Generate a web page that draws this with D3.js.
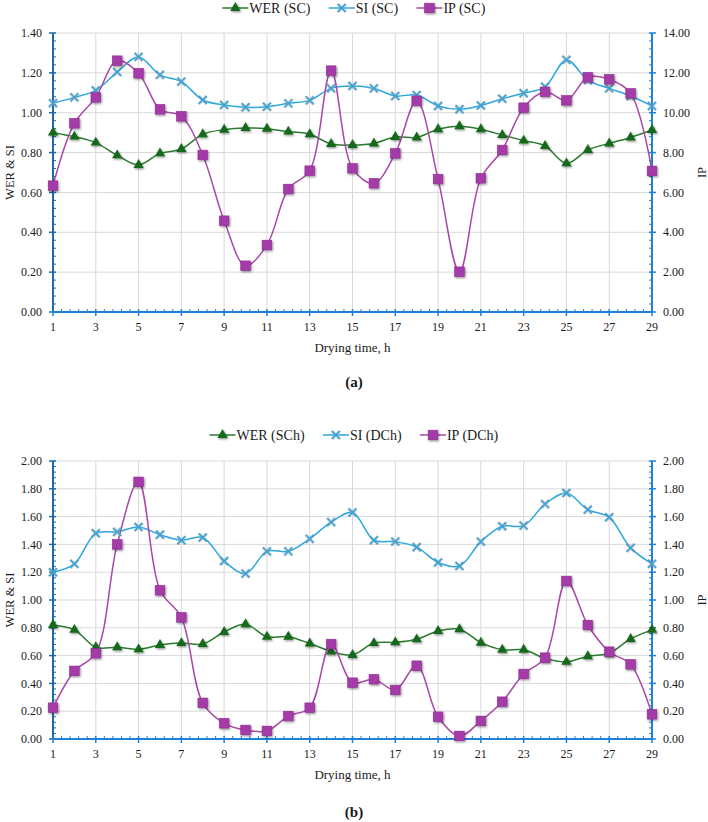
<!DOCTYPE html>
<html>
<head>
<meta charset="utf-8">
<script src="https://cdn.jsdelivr.net/npm/d3@7"></script>
<style>
  body { margin: 0; background: #fff; }
  text { fill: #1a1a1a; }
</style>
</head>
<body>
<div id="chart"></div>
<script>
// drying time (h)
const hours = [1, 2, 3, 4, 5, 6, 7, 8, 9, 10, 11, 12, 13, 14, 15, 16, 17, 18, 19, 20, 21, 22, 23, 24, 25, 26, 27, 28, 29]
const xTicks = [1, 3, 5, 7, 9, 11, 13, 15, 17, 19, 21, 23, 25, 27, 29]

// panel (a)
const werSC = [0.90, 0.88, 0.85, 0.786, 0.738, 0.796, 0.818, 0.892, 0.915, 0.923, 0.92, 0.905, 0.892, 0.843,
  0.838, 0.846, 0.878, 0.876, 0.917, 0.932, 0.917, 0.888, 0.86, 0.833, 0.746, 0.813, 0.846, 0.876, 0.913]
const siSC = [1.048, 1.077, 1.112, 1.204, 1.28, 1.19, 1.156, 1.064, 1.039, 1.027, 1.03, 1.047, 1.062, 1.122,
  1.134, 1.122, 1.084, 1.089, 1.034, 1.017, 1.036, 1.07, 1.098, 1.13, 1.265, 1.164, 1.122, 1.084, 1.034]
const ipSC = [6.34, 9.47, 10.77, 12.61, 11.98, 10.17, 9.82, 7.88, 4.58, 2.32, 3.36, 6.17, 7.09, 12.11,
  7.21, 6.46, 7.96, 10.6, 6.67, 2.02, 6.71, 8.13, 10.25, 11.05, 10.62, 11.78, 11.68, 10.97, 7.08]
const leftTicksA = [0, 0.2, 0.4, 0.6, 0.8, 1.0, 1.2, 1.4]
const rightTicksA = [0, 2, 4, 6, 8, 10, 12, 14]

// panel (b)
const werSCh = [0.82, 0.785, 0.66, 0.66, 0.645, 0.676, 0.69, 0.683, 0.77, 0.825, 0.736, 0.736, 0.687, 0.63,
  0.604, 0.69, 0.695, 0.717, 0.777, 0.79, 0.693, 0.642, 0.642, 0.58, 0.555, 0.595, 0.617, 0.72, 0.785]
const siDCh = [1.20, 1.26, 1.48, 1.49, 1.525, 1.47, 1.43, 1.45, 1.28, 1.19, 1.35, 1.35, 1.44, 1.56,
  1.63, 1.43, 1.42, 1.38, 1.27, 1.245, 1.42, 1.53, 1.535, 1.69, 1.77, 1.65, 1.595, 1.375, 1.26]
const ipDCh = [0.225, 0.49, 0.617, 1.40, 1.85, 1.07, 0.875, 0.26, 0.113, 0.065, 0.058, 0.165, 0.225, 0.683,
  0.405, 0.43, 0.353, 0.527, 0.16, 0.022, 0.13, 0.268, 0.468, 0.585, 1.137, 0.82, 0.628, 0.537, 0.178]
const leftTicksB = [0, 0.2, 0.4, 0.6, 0.8, 1.0, 1.2, 1.4, 1.6, 1.8, 2.0]
const rightTicksB = [0, 0.2, 0.4, 0.6, 0.8, 1.0, 1.2, 1.4, 1.6, 1.8, 2.0]

const colors = {
  wer: '#2b7a2e', werMark: '#17691d',
  si: '#2ea6e0', siMark: '#2aa3df',
  ip: '#a947a9', ipMark: '#a53aa8',
  grid: '#d9d9d9', leftAxis: '#1f6aa8', rightAxis: '#1f80d8'
}
const serif = "'Liberation Serif', 'Times New Roman', serif"

const W = 708, H = 822
const svg = d3.select('#chart').append('svg')
  .attr('width', W).attr('height', H)

// soft drop shadow for markers
const filt = svg.append('defs').append('filter')
  .attr('id', 'shadow').attr('x', '-50%').attr('y', '-50%').attr('width', '200%').attr('height', '200%')
filt.append('feDropShadow')
  .attr('dx', 1).attr('dy', 1.2).attr('stdDeviation', 0.9)
  .attr('flood-color', '#000').attr('flood-opacity', 0.45)

const fmt = d3.format('.2f')

function panel(cfg) {
  const g = svg.append('g')
  const x = d3.scaleLinear().domain([1, 29]).range([53, 652])
  const yL = d3.scaleLinear().domain([0, d3.max(cfg.leftTicks)]).range([cfg.bottom, cfg.top])
  const yR = d3.scaleLinear().domain([0, d3.max(cfg.rightTicks)]).range([cfg.bottom, cfg.top])

  // grid
  g.append('g').selectAll('line.h')
    .data(cfg.leftTicks.slice(1))
    .join('line')
      .attr('x1', x(1)).attr('x2', x(29))
      .attr('y1', d => yL(d)).attr('y2', d => yL(d))
      .attr('stroke', colors.grid).attr('stroke-width', 1)
  g.append('g').selectAll('line.v')
    .data(xTicks.slice(1, -1))
    .join('line')
      .attr('x1', d => x(d)).attr('x2', d => x(d))
      .attr('y1', cfg.top).attr('y2', cfg.bottom)
      .attr('stroke', colors.grid).attr('stroke-width', 1)

  // minor ticks: five per major step
  const minorOf = (ticks) => {
    const step = ticks[1] - ticks[0]
    const out = []
    ticks.slice(0, -1).forEach(t => { for (let k = 1; k < 5; k++) out.push(t + step * k / 5) })
    return out
  }

  // left axis
  const la = g.append('g')
  la.append('line').attr('x1', x(1)).attr('x2', x(1)).attr('y1', cfg.top).attr('y2', cfg.bottom)
    .attr('stroke', colors.leftAxis).attr('stroke-width', 2)
  la.selectAll('line.maj').data(cfg.leftTicks).join('line')
    .attr('x1', x(1) - 4).attr('x2', x(1) + 3).attr('y1', d => yL(d)).attr('y2', d => yL(d))
    .attr('stroke', colors.leftAxis).attr('stroke-width', 1.5)
  la.selectAll('line.min').data(minorOf(cfg.leftTicks)).join('line')
    .attr('x1', x(1)).attr('x2', x(1) + 3).attr('y1', d => yL(d)).attr('y2', d => yL(d))
    .attr('stroke', colors.leftAxis).attr('stroke-width', 1)
  la.selectAll('text').data(cfg.leftTicks).join('text')
    .attr('x', 42).attr('y', d => yL(d)).attr('dy', '0.35em')
    .attr('text-anchor', 'end').attr('font-family', serif).attr('font-size', 12)
    .text(d => fmt(d))

  // right axis
  const ra = g.append('g')
  ra.append('line').attr('x1', x(29)).attr('x2', x(29)).attr('y1', cfg.top).attr('y2', cfg.bottom)
    .attr('stroke', colors.rightAxis).attr('stroke-width', 2)
  ra.selectAll('line.maj').data(cfg.rightTicks).join('line')
    .attr('x1', x(29) - 3).attr('x2', x(29) + 4).attr('y1', d => yR(d)).attr('y2', d => yR(d))
    .attr('stroke', colors.rightAxis).attr('stroke-width', 1.5)
  ra.selectAll('line.min').data(minorOf(cfg.rightTicks)).join('line')
    .attr('x1', x(29) - 3).attr('x2', x(29)).attr('y1', d => yR(d)).attr('y2', d => yR(d))
    .attr('stroke', colors.rightAxis).attr('stroke-width', 1)
  ra.selectAll('text').data(cfg.rightTicks).join('text')
    .attr('x', 663).attr('y', d => yR(d)).attr('dy', '0.35em')
    .attr('font-family', serif).attr('font-size', 12)
    .text(d => fmt(d))

  // bottom axis
  const ba = g.append('g')
  ba.append('line').attr('x1', x(1)).attr('x2', x(29)).attr('y1', cfg.bottom).attr('y2', cfg.bottom)
    .attr('stroke', colors.rightAxis).attr('stroke-width', 2.2)
  ba.selectAll('line.maj').data(xTicks).join('line')
    .attr('x1', d => x(d)).attr('x2', d => x(d)).attr('y1', cfg.bottom - 3).attr('y2', cfg.bottom + 4)
    .attr('stroke', colors.rightAxis).attr('stroke-width', 1.5)
  ba.selectAll('line.min').data(minorOf(xTicks)).join('line')
    .attr('x1', d => x(d)).attr('x2', d => x(d)).attr('y1', cfg.bottom - 3).attr('y2', cfg.bottom)
    .attr('stroke', colors.rightAxis).attr('stroke-width', 1)
  ba.selectAll('text').data(xTicks).join('text')
    .attr('x', d => x(d)).attr('y', cfg.bottom + 15).attr('dy', '0.35em')
    .attr('text-anchor', 'middle').attr('font-family', serif).attr('font-size', 12)
    .text(d => d)

  // axis titles
  g.append('text')
    .attr('transform', `translate(14, ${(cfg.top + cfg.bottom) / 2}) rotate(-90)`)
    .attr('text-anchor', 'middle').attr('font-family', serif).attr('font-size', 12.5)
    .text('WER & SI')
  g.append('text')
    .attr('transform', `translate(706, ${(cfg.top + cfg.bottom) / 2}) rotate(-90)`)
    .attr('text-anchor', 'middle').attr('font-family', serif).attr('font-size', 12.5)
    .text('IP')
  g.append('text')
    .attr('x', (x(1) + x(29)) / 2).attr('y', cfg.bottom + 35).attr('dy', '0.35em')
    .attr('text-anchor', 'middle').attr('font-family', serif).attr('font-size', 13)
    .text('Drying time, h')
  g.append('text')
    .attr('x', 354).attr('y', cfg.labelY).attr('dy', '0.35em')
    .attr('text-anchor', 'middle').attr('font-family', serif).attr('font-size', 15)
    .attr('font-weight', 'bold')
    .text(cfg.label)

  const curve = d3.curveCatmullRom.alpha(0.5)
  const series = [
    { name: cfg.names[0], values: cfg.wer, y: yL, line: colors.wer, mark: colors.werMark, shape: 'tri' },
    { name: cfg.names[1], values: cfg.si, y: yL, line: colors.si, mark: colors.siMark, shape: 'x' },
    { name: cfg.names[2], values: cfg.ip, y: yR, line: colors.ip, mark: colors.ipMark, shape: 'sq' }
  ]

  const drawMarker = (sel, s) => {
    if (s.shape === 'tri') {
      sel.append('path').attr('d', d3.symbol(d3.symbolTriangle, 46)())
        .attr('fill', s.mark).attr('filter', 'url(#shadow)')
    } else if (s.shape === 'sq') {
      sel.append('rect').attr('x', -4.8).attr('y', -4.8).attr('width', 9.6).attr('height', 9.6)
        .attr('fill', s.mark).attr('stroke', '#8e2e90').attr('stroke-width', 0.6)
        .attr('filter', 'url(#shadow)')
    } else {
      sel.append('path').attr('d', 'M-4,-4L4,4M-4,4L4,-4')
        .attr('stroke', '#9aa3a8').attr('stroke-width', 3).attr('opacity', 0.6)
      sel.append('path').attr('d', 'M-4,-4L4,4M-4,4L4,-4')
        .attr('stroke', s.mark).attr('stroke-width', 1.3)
    }
  }

  // lines first, then markers on top
  series.forEach(s => {
    g.append('path')
      .datum(hours.map((h, i) => [h, s.values[i]]))
      .attr('fill', 'none').attr('stroke', s.line).attr('stroke-width', 1.5)
      .attr('d', d3.line().x(d => x(d[0])).y(d => s.y(d[1])).curve(curve))
  })
  series.forEach(s => {
    g.append('g').selectAll('g')
      .data(hours.map((h, i) => [h, s.values[i]]))
      .join('g')
        .attr('transform', d => `translate(${x(d[0])},${s.y(d[1])})`)
        .each(function () { drawMarker(d3.select(this), s) })
  })

  // legend, centred over the plot
  const lg = g.append('g').attr('transform', `translate(0, ${cfg.legendY})`)
  const items = lg.selectAll('g').data(series).join('g')
  items.append('line').attr('x1', 0).attr('x2', 26).attr('stroke', d => d.line).attr('stroke-width', 1.5)
  items.append('g').attr('transform', 'translate(13,0)').each(function (d) { drawMarker(d3.select(this), d) })
  items.append('text').attr('x', 27).attr('dy', '0.35em')
    .attr('font-family', serif).attr('font-size', 14).text(d => d.name)
  let widths = []
  items.each(function () { widths.push(this.getBBox().width) })
  const gap = 18
  const total = d3.sum(widths) + gap * (widths.length - 1)
  let cx = 354 - total / 2
  items.attr('transform', (d, i) => {
    const t = `translate(${cx},0)`
    cx += widths[i] + gap
    return t
  })
}

panel({
  top: 33, bottom: 312, legendY: 8, labelY: 382, label: '(a)',
  leftTicks: leftTicksA, rightTicks: rightTicksA,
  wer: werSC, si: siSC, ip: ipSC,
  names: ['WER (SC)', 'SI (SC)', 'IP (SC)']
})
panel({
  top: 461, bottom: 739, legendY: 435, labelY: 812, label: '(b)',
  leftTicks: leftTicksB, rightTicks: rightTicksB,
  wer: werSCh, si: siDCh, ip: ipDCh,
  names: ['WER (SCh)', 'SI (DCh)', 'IP (DCh)']
})
</script>
</body>
</html>
